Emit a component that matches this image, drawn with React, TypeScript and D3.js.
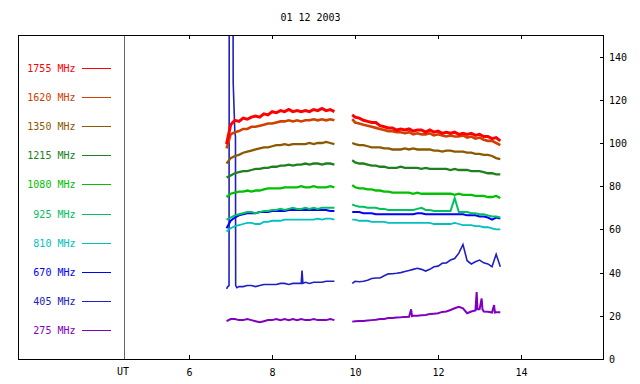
import React from "react";
import * as d3 from "d3";

const TITLE = "01 12 2003";
const X_TICKS = [6, 8, 10, 12, 14];
const Y_TICKS = [0, 20, 40, 60, 80, 100, 120, 140];
const UT_HOUR = 4.43;

const FREQS = ["1755 MHz", "1620 MHz", "1350 MHz", "1215 MHz", "1080 MHz", "925 MHz", "810 MHz", "670 MHz", "405 MHz", "275 MHz"];
const COLORS = ["#ff0000", "#d04000", "#8b5a00", "#208020", "#00c000", "#00c060", "#00c0c0", "#0000ff", "#2020c0", "#8000c0"];

const times1 = [6.9, 7.0, 7.1, 7.2, 7.3, 7.4, 7.5, 7.6, 7.7, 7.8, 7.9, 8.0, 8.1, 8.2, 8.3, 8.4, 8.5, 8.6, 8.7, 8.8, 8.9, 9.0, 9.1, 9.2, 9.3, 9.4, 9.5];
const times2 = [9.93, 10.0, 10.1, 10.2, 10.3, 10.4, 10.5, 10.6, 10.7, 10.8, 10.9, 11.0, 11.1, 11.2, 11.3, 11.4, 11.5, 11.6, 11.7, 11.8, 11.9, 12.0, 12.1, 12.2, 12.3, 12.4, 12.5, 12.6, 12.7, 12.8, 12.9, 13.0, 13.1, 13.2, 13.3, 13.4, 13.5];

const f1755a = [99.5, 108.5, 110.5, 110, 111.5, 111, 112, 112.5, 112, 113.5, 113, 114.5, 114, 115, 114.5, 115.5, 114.5, 115, 114.5, 115, 114.5, 115.5, 115, 116, 115, 115.5, 114.5];
const f1755b = [113, 112, 111.5, 110.5, 110, 109.5, 109.5, 108, 107.5, 107, 107, 106, 106.5, 106, 106.5, 105.5, 106, 106, 105, 106, 105, 105.5, 104.5, 105, 104.5, 105, 104, 104.5, 104, 104.5, 103.5, 104, 103, 103, 102, 102.5, 101];
const f1620a = [97.5, 104, 105, 105.5, 106.5, 106.5, 107.5, 107.5, 108, 108.5, 109, 109, 109.5, 110, 110, 110.5, 110, 110.5, 110, 110.5, 110.5, 111, 110.5, 111, 110.5, 111, 110.5];
const f1620b = [111, 109.5, 109, 108.5, 108, 107.5, 107, 106.5, 106, 105.5, 105.5, 105, 105, 104.5, 105, 104, 104.5, 104, 104, 104.5, 103.5, 104, 103.5, 103, 103.5, 103, 103, 103.5, 102.5, 103, 102, 102.5, 101.5, 101, 101, 100, 99];
const f1350a = [90.5, 93, 94, 94.5, 95.5, 96, 96.5, 97, 97.5, 98, 98, 98.5, 99, 99, 99.5, 99, 99.5, 99.5, 99.5, 99.5, 100, 99.5, 100, 100, 100.5, 100, 99.5];
const f1350b = [100, 99.5, 99, 99, 98.5, 98, 98, 98, 97.5, 97.5, 97, 97, 97, 97.5, 97, 97.5, 97, 97, 97, 97, 96.5, 96.5, 96, 96.5, 96.5, 96, 96, 96, 95.5, 95.5, 95, 95, 94.5, 94.5, 94, 93, 92.5];
const f1215a = [84, 85, 86, 86.5, 87, 87, 87.5, 88, 88, 88.5, 88.5, 89, 89, 89.5, 89.5, 90, 89.5, 90, 90, 90.5, 90, 90.5, 90.5, 90, 90.5, 90.5, 90];
const f1215b = [92, 91, 90.5, 90.5, 90, 89.5, 89.5, 89, 89, 88.5, 88.5, 88.5, 89, 88.5, 88.5, 88.5, 88.5, 88, 88.5, 88, 88, 88, 88, 88, 87.5, 88, 87.5, 87.5, 87.5, 87, 87, 87, 86.5, 86, 86, 85.5, 85.5];
const f1080a = [75, 76.5, 77, 77.5, 77.5, 78, 77.5, 78, 78, 78.5, 79, 79, 79, 79, 79.5, 79.5, 79.5, 79.5, 80, 79.5, 79.5, 80, 79.5, 79.5, 79.5, 80, 79.5];
const f1080b = [80.5, 79.5, 79, 79, 78.5, 78.5, 78, 78, 77.5, 77.5, 77, 77, 77, 77, 77, 76.5, 77, 76.5, 76.5, 76.5, 76.5, 76.5, 76.5, 76.5, 76.5, 76, 76.5, 76, 76, 76, 75.5, 75.5, 75.5, 75, 75, 75.5, 74.5];
const f925a = [64.5, 65.5, 66.5, 67, 67.5, 68, 68, 67.5, 68, 68.5, 68.5, 69, 69, 69.5, 69, 69.5, 70, 69.5, 69.5, 70, 69.5, 70, 69.5, 70, 70, 70, 70];
const f925b = [71.5, 71, 70.5, 70.5, 70, 70, 70, 69.5, 69.5, 69, 69, 69, 69, 69, 69, 69, 69.5, 70, 69, 69, 68.5, 68.5, 68.5, 68.5, 68.5, 74.5, 68, 68, 68, 67.5, 67.5, 67, 67, 66.5, 66, 66, 65.5];
const f810a = [59, 60.5, 61.5, 62, 62.5, 63, 63, 62.5, 62.5, 63.5, 63.5, 64, 64, 64, 64.5, 64.5, 64.5, 64.5, 64.5, 64.5, 64.5, 64.5, 65, 64.5, 65, 65, 64.5];
const f810b = [64.5, 64.5, 64, 64, 64, 63.5, 63.5, 63.5, 63.5, 63, 63, 63, 63, 63, 63, 63, 63, 63, 63, 63, 62.5, 62.5, 62.5, 62.5, 62.5, 63, 62.5, 62, 62, 62, 61.5, 61.5, 61, 61, 60.5, 60, 60];
const f670a = [60.5, 64, 65.5, 66.5, 67, 67.5, 67.5, 67.5, 68, 68, 68, 68.5, 68.5, 68.5, 68.5, 69, 69, 69, 69, 69, 69, 69, 69, 69, 69, 68.5, 68.5];
const f670b = [68, 68, 68, 67.5, 67.5, 67.5, 67, 67, 67, 67, 67, 67, 67, 67, 67, 67, 67.5, 67.5, 67, 67, 67, 67, 67, 67, 67, 67, 67, 67, 66.5, 66.5, 66.5, 66, 66, 65.5, 64.5, 65.5, 65];
const t405a = [6.9, 6.93, 6.96, 6.965, 7.055, 7.06, 7.1, 7.115, 7.12, 7.15, 7.2, 7.3, 7.4, 7.5, 7.6, 7.7, 7.8, 7.9, 8.0, 8.1, 8.2, 8.3, 8.4, 8.5, 8.6, 8.7, 8.72, 8.74, 8.8, 8.9, 9.0, 9.1, 9.2, 9.3, 9.4, 9.5];
const f405a = [32.5, 33.5, 34, 175, 175, 128, 105, 103, 34, 33, 33.5, 33.5, 34, 34, 33.5, 34, 34.5, 34.5, 34.5, 34.5, 35, 35, 34.5, 35, 35, 35, 41, 35, 35.5, 35, 35.5, 35.5, 35.5, 36, 36, 36];
const f405b = [35, 36, 35.8, 36, 36.5, 37.3, 37.5, 37.5, 38.5, 39.4, 39.5, 39.7, 40, 40.5, 41, 41.5, 42, 41.5, 40.7, 41.5, 42.7, 43, 44.3, 44.5, 45.8, 46.5, 49, 53, 45.5, 44, 45, 45.8, 44.5, 44, 42.7, 48.5, 42.7];
const f275a = [17.5, 18.5, 18.5, 18, 18, 18.5, 18, 17.5, 17, 17.5, 18, 18, 18.5, 18, 18.5, 18, 18.5, 18, 18.5, 18, 18, 18.5, 18, 18, 18, 18.5, 18];
const t275b = [9.93, 10.0, 10.1, 10.2, 10.3, 10.4, 10.5, 10.6, 10.7, 10.8, 10.9, 11.0, 11.1, 11.2, 11.3, 11.35, 11.37, 11.4, 11.5, 11.6, 11.7, 11.8, 11.9, 12.0, 12.1, 12.2, 12.3, 12.4, 12.5, 12.6, 12.7, 12.8, 12.9, 12.93, 12.95, 13.0, 13.05, 13.07, 13.1, 13.2, 13.3, 13.35, 13.37, 13.4, 13.5];
const f275b = [17.3, 17.5, 17.6, 17.6, 17.8, 18, 18.2, 18.5, 18.5, 19, 19, 19.2, 19.3, 19.5, 19.6, 23, 19.8, 20, 20, 20.2, 20.4, 20.8, 21, 21.2, 21.8, 22, 22.7, 23.5, 24.2, 23.5, 21.2, 22, 22.5, 31, 23, 23, 28, 23, 22, 21.9, 21.5, 25, 21.5, 21.6, 21.6];

const SERIES = [
  [[times1, f1755a], [times2, f1755b]],
  [[times1, f1620a], [times2, f1620b]],
  [[times1, f1350a], [times2, f1350b]],
  [[times1, f1215a], [times2, f1215b]],
  [[times1, f1080a], [times2, f1080b]],
  [[times1, f925a], [times2, f925b]],
  [[times1, f810a], [times2, f810b]],
  [[times1, f670a], [times2, f670b]],
  [[t405a, f405a], [times2, f405b]],
  [[times1, f275a], [t275b, f275b]],
];
const WIDTHS = [3, 2.6, 2.3, 2.3, 2.3, 2, 1.8, 2, 1.6, 2];

const W = 640, H = 384;
const L = 18, R = 604, T = 35, B = 359;
const FONT = "'DejaVu Sans Mono', 'Liberation Mono', monospace";

export default function App() {
  const x = d3.scaleLinear().domain([1.872, 16]).range([L, R]);
  const y = d3.scaleLinear().domain([0, 150]).range([B, T]);
  const line = d3.line<[number, number]>().x((d) => x(d[0])).y((d) => y(d[1]));
  const order = [9, 8, 6, 7, 5, 4, 3, 2, 1, 0];
  return (
    <svg width={W} height={H} style={{ position: "absolute", left: 0, top: 0, background: "#fff" }} fontFamily={FONT} fontSize={10}>
      <defs>
        <clipPath id="plot">
          <rect x={L} y={T} width={R - L} height={B - T} />
        </clipPath>
      </defs>
      <rect x={0} y={0} width={W} height={H} fill="#fff" />
      <text x={310.5} y={21} textAnchor="middle" fill="#000">{TITLE}</text>
      <line x1={Math.round(x(UT_HOUR)) + 0.5} x2={Math.round(x(UT_HOUR)) + 0.5} y1={T} y2={B} stroke="#666" strokeWidth={1} />
      <text x={x(UT_HOUR) - 1} y={375} textAnchor="middle" fill="#000">UT</text>
      {FREQS.map((f, i) => {
        const ly = Math.round(68 + i * 29.1) + 0.5;
        return (
          <g key={f}>
            <text x={75.5} y={ly + 3.5} textAnchor="end" fill={COLORS[i]}>{f}</text>
            <line x1={82} x2={111} y1={ly} y2={ly} stroke={COLORS[i]} strokeWidth={1} />
          </g>
        );
      })}
      <g clipPath="url(#plot)">
        {order.map((i) =>
          SERIES[i].map((seg, k) => {
            const pts = (seg[0] as number[]).map((t, j) => [t, (seg[1] as number[])[j]] as [number, number]);
            return (
              <path key={i + "-" + k} d={line(pts) || ""} fill="none" stroke={COLORS[i]}
                strokeWidth={WIDTHS[i]} strokeLinejoin="miter" />
            );
          })
        )}
      </g>
      <rect x={L + 0.5} y={T + 0.5} width={R - L - 1} height={B - T} fill="none" stroke="#000" strokeWidth={1} shapeRendering="crispEdges" />
      {X_TICKS.map((t) => {
        const px = Math.round(x(t)) + 0.5;
        return (
          <g key={"x" + t}>
            <line x1={px} x2={px} y1={B} y2={B - 4} stroke="#000" />
            <line x1={px} x2={px} y1={T} y2={T + 4} stroke="#000" />
            <text x={px} y={376} textAnchor="middle" fill="#000">{t}</text>
          </g>
        );
      })}
      {Y_TICKS.map((v) => {
        const py = Math.round(y(v)) + 0.5;
        return (
          <g key={"y" + v}>
            <line x1={R - 4} x2={R} y1={py} y2={py} stroke="#000" />
            <text x={609} y={py + 3.5} textAnchor="start" fill="#000">{v}</text>
          </g>
        );
      })}
    </svg>
  );
}
